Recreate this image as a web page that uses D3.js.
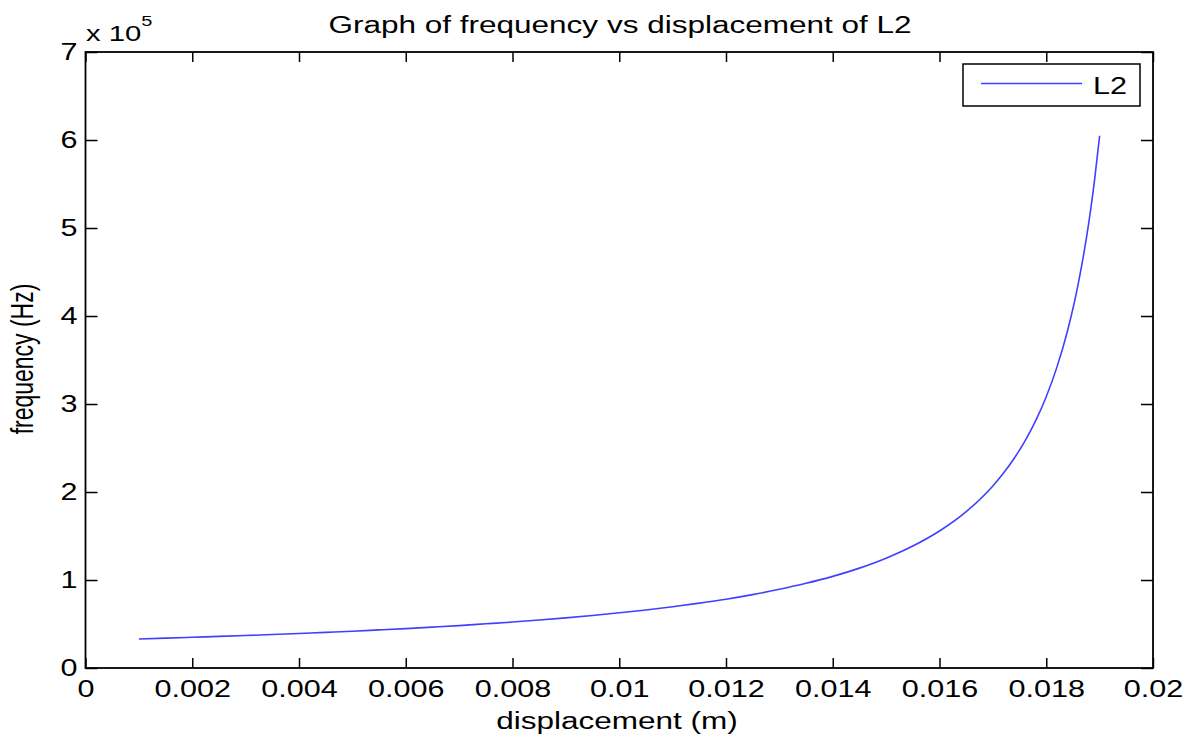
<!DOCTYPE html>
<html>
<head>
<meta charset="utf-8">
<script src="https://cdn.jsdelivr.net/npm/d3@7"></script>
<style>
  html, body { margin: 0; padding: 0; background: #fff; }
  svg { display: block; }
  text { font-family: "Liberation Sans", Arial, Helvetica, sans-serif; fill: #000; }
</style>
</head>
<body>
<svg id="chart" width="1195" height="735"></svg>
<script>
// Displacement (m) and resulting frequency (Hz) for L2
const displacement = [
  0.0010, 0.0015, 0.0020, 0.0025, 0.0030, 0.0035, 0.0040, 0.0045, 0.0050, 0.0055,
  0.0060, 0.0065, 0.0070, 0.0075, 0.0080, 0.0085, 0.0090, 0.0095, 0.0100, 0.0105,
  0.0110, 0.0115, 0.0120, 0.0125, 0.0130, 0.0135, 0.0140, 0.0145, 0.0150, 0.0155,
  0.0160, 0.0165, 0.0170, 0.0172, 0.0174, 0.0176, 0.0178, 0.0180, 0.0182, 0.0184,
  0.0186, 0.0188, 0.0189, 0.0190
];
const frequency = [
  33000, 33900, 34900, 35900, 36900, 38000, 39200, 40500, 41800, 43300,
  44800, 46500, 48200, 50200, 52200, 54500, 57000, 59700, 62700, 65900,
  69600, 73700, 78200, 83400, 89400, 96200, 104100, 113500, 124800, 138600,
  155700, 177700, 206900, 221500, 238300, 257800, 280800, 308300, 341900, 383500,
  436800, 507300, 551800, 604800
];

const xTicks = [0, 0.002, 0.004, 0.006, 0.008, 0.01, 0.012, 0.014, 0.016, 0.018, 0.02];
const xTickLabels = ["0", "0.002", "0.004", "0.006", "0.008", "0.01", "0.012", "0.014", "0.016", "0.018", "0.02"];
const yTicks = [0, 100000, 200000, 300000, 400000, 500000, 600000, 700000];
const yTickLabels = ["0", "1", "2", "3", "4", "5", "6", "7"];

const titleText = "Graph of frequency vs displacement of L2";
const xLabelText = "displacement (m)";
const yLabelText = "frequency (Hz)";
const seriesName = "L2";

const FS = 23;      // font size
const SX = 1.33;    // horizontal text stretch
const SX_TITLE = 1.37;

const svg = d3.select("#chart");
const box = { left: 85.5, right: 1153, top: 52, bottom: 668 };

const x = d3.scaleLinear().domain([0, 0.02]).range([box.left, box.right]);
const y = d3.scaleLinear().domain([0, 700000]).range([box.bottom, box.top]);

function styleAxis(g) {
  g.select(".domain").remove();
  g.selectAll(".tick line").attr("stroke", "#000").attr("stroke-width", 1.5);
  g.selectAll(".tick text")
    .style("font-size", FS + "px")
    .style("font-family", "'Liberation Sans', Arial, sans-serif")
    .attr("fill", "#000");
}

// Bottom axis with labels
svg.append("g")
  .attr("transform", `translate(0,${box.bottom})`)
  .call(d3.axisBottom(x).tickValues(xTicks)
    .tickFormat((d, i) => xTickLabels[i])
    .tickSizeInner(-10).tickSizeOuter(0).tickPadding(13))
  .call(styleAxis)
  .call(g => g.selectAll(".tick text").attr("transform", `scale(${SX},1)`));

// Top axis, ticks only
svg.append("g")
  .attr("transform", `translate(0,${box.top})`)
  .call(d3.axisTop(x).tickValues(xTicks).tickFormat("")
    .tickSizeInner(-10).tickSizeOuter(0))
  .call(styleAxis);

// Left axis with labels
svg.append("g")
  .attr("transform", `translate(${box.left},0)`)
  .call(d3.axisLeft(y).tickValues(yTicks)
    .tickFormat((d, i) => yTickLabels[i])
    .tickSizeInner(-12).tickSizeOuter(0).tickPadding(6))
  .call(styleAxis)
  .call(g => g.selectAll(".tick text").attr("transform", `scale(${SX},1)`));

// Right axis, ticks only
svg.append("g")
  .attr("transform", `translate(${box.right},0)`)
  .call(d3.axisRight(y).tickValues(yTicks).tickFormat("")
    .tickSizeInner(-12).tickSizeOuter(0))
  .call(styleAxis);

// Axes box
svg.append("rect")
  .attr("x", box.left).attr("y", box.top)
  .attr("width", box.right - box.left).attr("height", box.bottom - box.top)
  .attr("fill", "none").attr("stroke", "#000").attr("stroke-width", 1.8);

// Data line
const pts = displacement.map((d, i) => [d, frequency[i]]);
svg.append("path")
  .datum(pts)
  .attr("fill", "none")
  .attr("stroke", "#4040ff")
  .attr("stroke-width", 1.6)
  .attr("d", d3.line().x(d => x(d[0])).y(d => y(d[1])).curve(d3.curveMonotoneX));

// Stretched text helper
function label(txt, px, py, anchor, size, sx, extra) {
  return svg.append("text")
    .attr("transform", `translate(${px},${py}) scale(${sx},1)` + (extra || ""))
    .attr("text-anchor", anchor)
    .style("font-size", size + "px")
    .text(txt);
}

// Title and axis labels
label(titleText, 620, 33, "middle", FS, SX_TITLE);
label(xLabelText, 617, 729, "middle", FS, SX_TITLE);
label(yLabelText, 33, 359, "middle", FS, SX, " rotate(-90)");

// Exponent for the y axis
const expo = svg.append("text")
  .attr("transform", `translate(86,41) scale(${SX},1)`)
  .style("font-size", "22px");
expo.append("tspan").text("x 10");
expo.append("tspan").attr("dy", -15).style("font-size", "15px").text("5");

// Legend
const lg = svg.append("g");
lg.append("rect")
  .attr("x", 963).attr("y", 64).attr("width", 177).attr("height", 42)
  .attr("fill", "#fff").attr("stroke", "#000").attr("stroke-width", 1.5);
lg.append("line")
  .attr("x1", 981).attr("x2", 1082).attr("y1", 83.5).attr("y2", 83.5)
  .attr("stroke", "#4040ff").attr("stroke-width", 1.6);
label(seriesName, 1093, 94, "start", FS, SX);
</script>
</body>
</html>
